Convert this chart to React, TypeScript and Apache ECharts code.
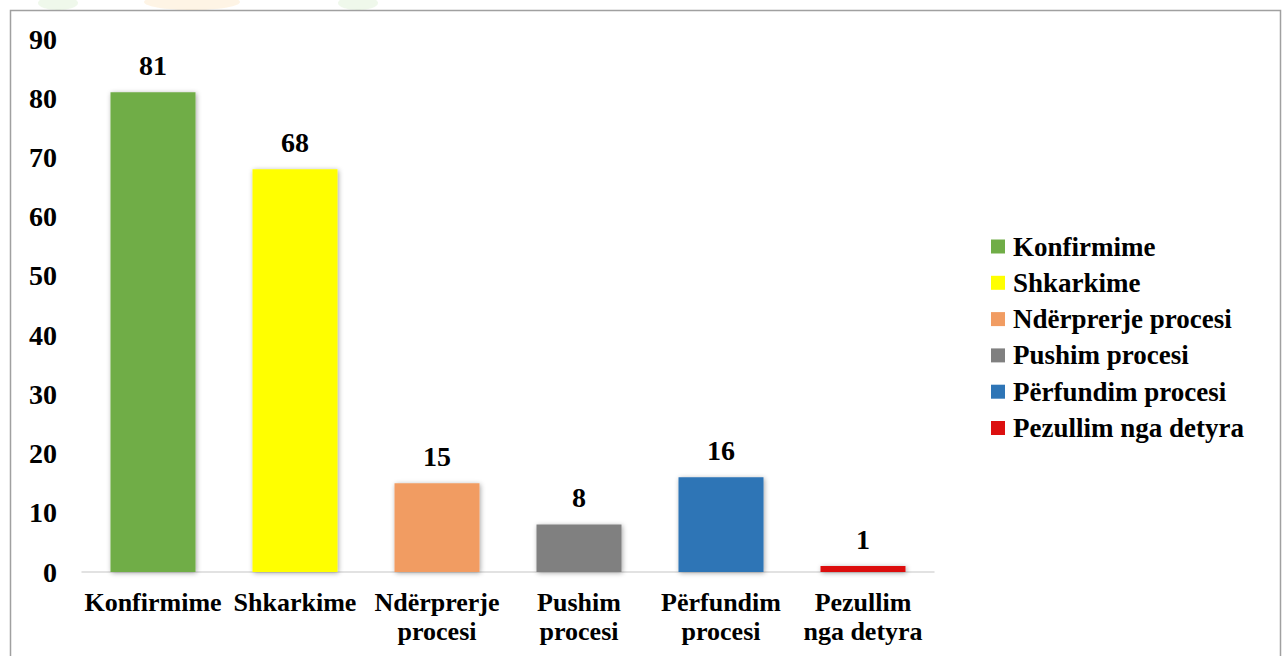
import React, { useEffect, useRef } from "react";
import * as echarts from "echarts";

const categories = [
  "Konfirmime",
  "Shkarkime",
  "Ndërprerje\nprocesi",
  "Pushim\nprocesi",
  "Përfundim\nprocesi",
  "Pezullim\nnga detyra",
];
const seriesNames = [
  "Konfirmime",
  "Shkarkime",
  "Ndërprerje procesi",
  "Pushim procesi",
  "Përfundim procesi",
  "Pezullim nga detyra",
];
const values = [81, 68, 15, 8, 16, 1];
const colors = ["#70AD47", "#FFFF00", "#F19C62", "#808080", "#2E75B6", "#DC1010"];
const yTicks = { min: 0, max: 90, interval: 10 };

const FONT = "Liberation Serif";

export default function App() {
  const ref = useRef<HTMLDivElement>(null);
  useEffect(() => {
    if (!ref.current) return;
    const chart = echarts.init(ref.current, undefined, { renderer: "svg" });
    const series = seriesNames.map((name, i) => ({
      name,
      type: "bar",
      barWidth: 85,
      barGap: "-100%",
      data: values.map((v, j) => (j === i ? v : "-")),
      itemStyle: {
        color: colors[i],
        shadowBlur: 5,
        shadowColor: "rgba(0,0,0,0.35)",
        shadowOffsetX: 1,
        shadowOffsetY: 1,
      },
      label: {
        show: true,
        position: "top",
        distance: 13,
        fontFamily: FONT,
        fontWeight: "bold",
        fontSize: 28,
        color: "#000",
      },
    }));
    chart.setOption({
      animation: false,
      backgroundColor: "#fff",
      textStyle: { fontFamily: FONT },
      grid: { left: 82, right: 348, top: 39, bottom: 84, containLabel: false },
      xAxis: {
        type: "category",
        data: categories,
        axisLine: { show: true, lineStyle: { color: "#D9D9D9", width: 1.5 } },
        axisTick: { show: false },
        axisLabel: {
          interval: 0,
          margin: 16,
          fontFamily: FONT,
          fontWeight: "bold",
          fontSize: 26,
          lineHeight: 29,
          color: "#000",
        },
      },
      yAxis: {
        type: "value",
        min: yTicks.min,
        max: yTicks.max,
        interval: yTicks.interval,
        splitLine: { show: false },
        axisLine: { show: false },
        axisTick: { show: false },
        axisLabel: {
          margin: 25,
          fontFamily: FONT,
          fontWeight: "bold",
          fontSize: 28,
          color: "#000",
        },
      },
      legend: {
        orient: "vertical",
        left: 986,
        top: 228,
        itemWidth: 14,
        itemHeight: 14,
        itemGap: 9.3,
        icon: "rect",
        textStyle: {
          fontFamily: FONT,
          fontWeight: "bold",
          fontSize: 27,
          color: "#000",
          padding: [0, 0, 0, 3],
        },
        data: seriesNames,
      },
      graphic: [
        {
          type: "rect",
          silent: true,
          shape: { x: 10.5, y: 10.5, width: 1270, height: 700 },
          style: { fill: "none", stroke: "#A0A0A0", lineWidth: 1.5 },
          z: -1,
        },
        {
          type: "ellipse",
          silent: true,
          shape: { cx: 58, cy: 3, rx: 20, ry: 7 },
          style: { fill: "rgba(120,200,90,0.12)" },
        },
        {
          type: "ellipse",
          silent: true,
          shape: { cx: 192, cy: 2, rx: 48, ry: 8 },
          style: { fill: "rgba(250,180,70,0.14)" },
        },
        {
          type: "ellipse",
          silent: true,
          shape: { cx: 358, cy: 3, rx: 20, ry: 7 },
          style: { fill: "rgba(120,200,90,0.12)" },
        },
      ],
      series,
    });
    return () => chart.dispose();
  }, []);
  return (
    <div
      ref={ref}
      style={{ position: "fixed", left: 0, top: 0, width: 1282, height: 656 }}
    />
  );
}
